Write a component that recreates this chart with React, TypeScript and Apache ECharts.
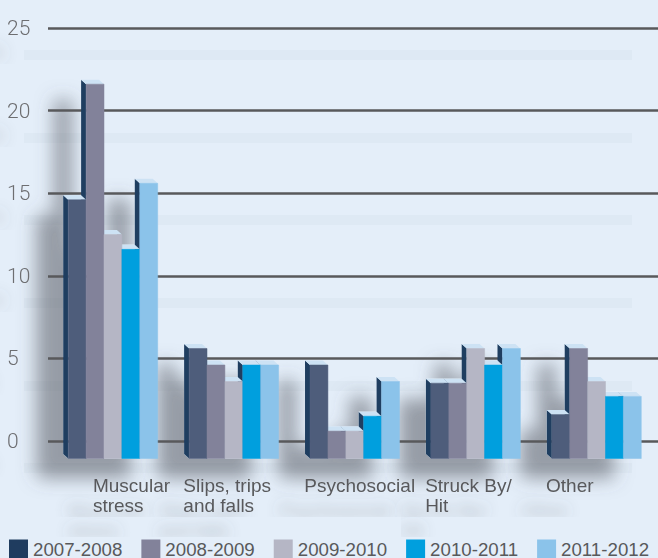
import React, { useEffect, useRef } from 'react';
import * as echarts from 'echarts';

// ---- data ----
const CATEGORIES = ['Muscular\nstress', 'Slips, trips\nand falls', 'Psychosocial', 'Struck By/\nHit', 'Other'];
const YEARS = ['2007-2008', '2008-2009', '2009-2010', '2010-2011', '2011-2012'];
const VALUES_2007_2008 = [14.6, 5.6, 4.6, 3.5, 1.6];
const VALUES_2008_2009 = [21.6, 4.6, 0.6, 3.5, 5.6];
const VALUES_2009_2010 = [12.5, 3.6, 0.6, 5.6, 3.6];
const VALUES_2010_2011 = [11.6, 4.6, 1.5, 4.6, 2.7];
const VALUES_2011_2012 = [15.6, 4.6, 3.6, 5.6, 2.7];
const Y_MIN = 0;
const Y_MAX = 25;
const Y_STEP = 5;

const SERIES_VALUES = [VALUES_2007_2008, VALUES_2008_2009, VALUES_2009_2010, VALUES_2010_2011, VALUES_2011_2012];

// ---- style ----
const FRONT_COLORS = ['#4e5d7b', '#82829a', '#b5b6c5', '#009fde', '#8bc3ea'];
const LEGEND_COLORS = ['#1f3c5f', '#82829a', '#b5b6c5', '#009fde', '#8bc3ea'];
const SIDE_COLOR = '#1f3e60';
const TOP_COLOR = '#cde2f4';
const BG = '#e4eef9';
const TEXT_COLOR = '#58595b';
const DX = -5;
const DY = -4.5;
const FLOOR_DROP = 17.5;
const BAR_FRAC = 0.148;
const FONT = "'Liberation Sans', Arial, Helvetica, sans-serif";

const makeBarRender = (j: number) => (params: any, api: any) => {
  const i = api.value(0);
  const v = api.value(1);
  const [cx, yTop] = api.coord([i, v]);
  const yZero = api.coord([i, 0])[1];
  const band = api.size([1, 0])[0];
  const bw = band * BAR_FRAC;
  const x0 = cx - 2.5 * bw + j * bw;
  const x1 = x0 + bw;
  const yb = yZero + FLOOR_DROP;
  return {
    type: 'group',
    children: [
      {
        type: 'polygon',
        z2: 1,
        shape: { points: [[x0, yTop], [x0, yb], [x0 + DX, yb + DY], [x0 + DX, yTop + DY]] },
        style: { fill: SIDE_COLOR },
      },
      {
        type: 'polygon',
        z2: 2,
        shape: { points: [[x0, yTop], [x1, yTop], [x1 + DX, yTop + DY], [x0 + DX, yTop + DY]] },
        style: { fill: TOP_COLOR },
      },
      {
        type: 'rect',
        z2: 3,
        shape: { x: x0, y: yTop, width: bw, height: yb - yTop },
        style: { fill: FRONT_COLORS[j], stroke: FRONT_COLORS[j], lineWidth: 0.5 },
      },
    ],
  };
};

const renderShadow = (params: any, api: any) => {
  const i = api.value(0);
  const band = api.size([1, 0])[0];
  const bw = band * BAR_FRAC;
  const [cx, yZero] = api.coord([i, 0]);
  const yb = yZero + FLOOR_DROP;
  const left = cx - 2.5 * bw;
  const pts: number[][] = [[left + DX, yb + DY]];
  let tLast = yb;
  for (let j = 0; j < 5; j++) {
    const t = api.coord([i, api.value(j + 1)])[1];
    pts.push([left + j * bw + DX, t + DY], [left + (j + 1) * bw + DX, t + DY]);
    tLast = t;
  }
  pts.push([left + 5 * bw, tLast], [left + 5 * bw, yb], [left, yb]);
  return {
    type: 'polygon',
    shape: { points: pts },
    style: {
      fill: BG,
      shadowBlur: 18,
      shadowColor: 'rgba(85,90,98,0.55)',
      shadowOffsetX: -27,
      shadowOffsetY: 20,
    },
  };
};

const textShadow = {
  textShadowColor: 'rgba(90,92,96,0.4)',
  textShadowBlur: 14,
  textShadowOffsetX: -25,
  textShadowOffsetY: 25,
};

const labelCommon = {
  fontSize: 19,
  lineHeight: 20,
  color: TEXT_COLOR,
  fontFamily: FONT,
  align: 'left',
  ...textShadow,
};

export default function App() {
  const ref = useRef<HTMLDivElement>(null);
  useEffect(() => {
    const chart = echarts.init(ref.current!, null, { renderer: 'svg' });
    const option: any = {
      animation: false,
      backgroundColor: BG,
      grid: [
        { left: 48, right: 0, top: 28, height: 413 },
        { left: 52.5, right: 1, top: 28, height: 413 },
        { left: 24, right: 26, top: 55, height: 413 },
      ],
      xAxis: [
        { gridIndex: 0, type: 'category', data: CATEGORIES, show: false },
        {
          gridIndex: 1,
          type: 'category',
          data: CATEGORIES,
          z: 1,
          axisLine: { show: false },
          axisTick: { show: false },
          axisLabel: {
            interval: 0,
            margin: 34,
            verticalAlign: 'top',
            formatter: (value: string, idx: number) =>
              value
                .split('\n')
                .map((l) => `{${idx === 0 ? 'b' : 'a'}|${l}}`)
                .join('\n'),
            rich: {
              a: { ...labelCommon, width: 101 },
              b: { ...labelCommon, width: 40 },
            },
          },
        },
        { gridIndex: 2, type: 'category', data: CATEGORIES, show: false },
      ],
      yAxis: [
        {
          gridIndex: 0,
          type: 'value',
          min: Y_MIN,
          max: Y_MAX,
          interval: Y_STEP,
          z: 1,
          axisLine: { show: false },
          axisTick: { show: false },
          splitLine: { lineStyle: { color: '#58595b', width: 2.5 } },
          axisLabel: {
            align: 'left',
            margin: 41,
            verticalAlign: 'middle',
            padding: [0, 0, 14, 0],
            fontSize: 21,
            fontWeight: 300,
            fontFamily: "Roboto, 'Liberation Sans', sans-serif",
            color: '#6d6e71',
            ...textShadow,
          },
        },
        { gridIndex: 1, type: 'value', min: Y_MIN, max: Y_MAX, interval: Y_STEP, show: false },
        {
          gridIndex: 2,
          type: 'value',
          min: Y_MIN,
          max: Y_MAX,
          interval: Y_STEP,
          z: 0,
          axisLine: { show: false },
          axisTick: { show: false },
          axisLabel: { show: false },
          splitLine: { lineStyle: { color: 'rgba(150,165,185,0.07)', width: 10 } },
        },
      ],
      legend: {
        left: 4,
        top: 534,
        width: 660,
        icon: 'rect',
        itemWidth: 19,
        itemHeight: 19,
        itemGap: 19,
        data: YEARS.map((n, j) => ({ name: n, itemStyle: { color: LEGEND_COLORS[j] } })),
        textStyle: { fontSize: 18.7, lineHeight: 20, color: TEXT_COLOR, fontFamily: FONT },
      },
      series: [
        {
          type: 'custom',
          name: 'shadow',
          xAxisIndex: 1,
          yAxisIndex: 1,
          z: 0,
          silent: true,
          renderItem: renderShadow,
          encode: { x: 0, y: [1, 2, 3, 4, 5] },
          data: CATEGORIES.map((c, i) => [i, ...SERIES_VALUES.map((s) => s[i])]),
        },
        ...YEARS.map((name, j) => ({
          type: 'custom',
          name,
          xAxisIndex: 1,
          yAxisIndex: 1,
          z: 2,
          itemStyle: { color: LEGEND_COLORS[j] },
          renderItem: makeBarRender(j),
          encode: { x: 0, y: 1 },
          data: CATEGORIES.map((c, i) => [i, SERIES_VALUES[j][i]]),
        })),
      ],
    };
    chart.setOption(option);
    return () => chart.dispose();
  }, []);
  return <div ref={ref} style={{ position: 'fixed', left: 0, top: 0, width: 658, height: 558 }} />;
}
